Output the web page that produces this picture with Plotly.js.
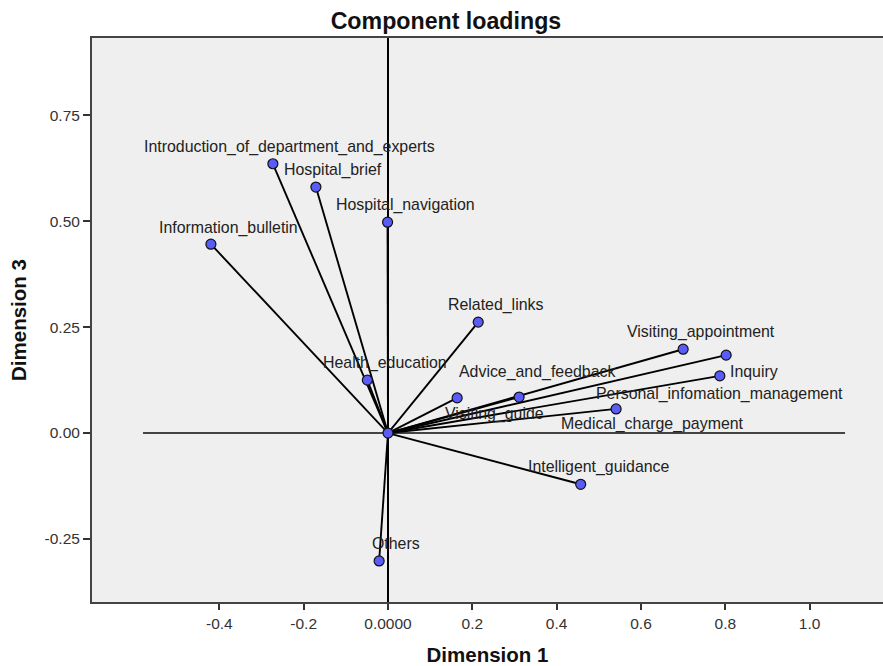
<!DOCTYPE html>
<html>
<head>
<meta charset="utf-8">
<script src="https://cdn.plot.ly/plotly-3.0.1.min.js"></script>
<style>html,body{margin:0;padding:0;background:#fff;}#chart{width:883px;height:666px;}</style>
</head>
<body>
<div id="chart"></div>
<script>
// ---- data ----
const variables = [
  "Introduction_of_department_and_experts",
  "Hospital_brief",
  "Hospital_navigation",
  "Information_bulletin",
  "Health_education",
  "Related_links",
  "Visiting_appointment",
  "Inquiry",
  "Personal_infomation_management",
  "Advice_and_feedback",
  "Visiting_guide",
  "Medical_charge_payment",
  "Intelligent_guidance",
  "Others"
];
const dimension1 = [-0.273, -0.171, -0.001, -0.420, -0.049, 0.214, 0.700, 0.802, 0.787, 0.311, 0.164, 0.541, 0.457, -0.021];
const dimension3 = [0.636, 0.581, 0.498, 0.446, 0.125, 0.262, 0.198, 0.184, 0.135, 0.085, 0.083, 0.057, -0.121, -0.302];
const xTickVals = [-0.4, -0.2, 0.0, 0.2, 0.4, 0.6, 0.8, 1.0];
const xTickText = ["-0.4", "-0.2", "0.0000", "0.2", "0.4", "0.6", "0.8", "1.0"];
const yTickVals = [-0.25, 0.0, 0.25, 0.50, 0.75];
const yTickText = ["-0.25", "0.00", "0.25", "0.50", "0.75"];
const refLineX = [-0.581, 1.084];

// ---- label placement (pixel offsets from each point, style only) ----
const labelShift = [
  [17, -17], [17, -17], [18, -17], [18, -16], [18, -17], [17, -17], [18, -17],
  [28, 16], [0, 18], [18, -25], [37, 16], [36, 15], [18, -17], [17, -17]
];

const font = "Liberation Sans, Arial, sans-serif";

// vectors from origin
const vx = [], vy = [];
dimension1.forEach((x, i) => { vx.push(0, x, null); vy.push(0, dimension3[i], null); });

const traces = [
  {
    x: vx, y: vy, type: "scatter", mode: "lines",
    line: {color: "#000", width: 1.9}, hoverinfo: "skip", showlegend: false
  },
  {
    x: [0].concat(dimension1), y: [0].concat(dimension3),
    text: [""].concat(variables),
    type: "scatter", mode: "markers",
    marker: {size: 10, color: "#5a5cf7", line: {color: "#111", width: 1.2}},
    showlegend: false
  }
];

const annotations = variables.map((v, i) => ({
  x: dimension1[i], y: dimension3[i], xref: "x", yref: "y",
  text: v, showarrow: false,
  xshift: labelShift[i][0], yshift: -labelShift[i][1],
  font: {family: font, size: 15.9, color: "#222"}
}));

const layout = {
  width: 883, height: 666,
  margin: {l: 92, r: 0, t: 38, b: 64},
  paper_bgcolor: "#fff",
  plot_bgcolor: "#efefef",
  title: {
    text: "Component loadings",
    font: {family: font, size: 23.2, color: "#111", weight: "bold"},
    xref: "container", yref: "container", x: 0.505, y: 0.968, xanchor: "center", yanchor: "middle"
  },
  xaxis: {
    range: [-0.702, 1.174],
    tickvals: xTickVals, ticktext: xTickText,
    showgrid: false, zeroline: true, zerolinecolor: "#000", zerolinewidth: 1.9,
    showline: true, mirror: true, linecolor: "#444", linewidth: 2,
    ticks: "outside", ticklen: 6, tickwidth: 2, tickcolor: "#333",
    tickfont: {family: font, size: 15.5, color: "#333"},
    title: {text: "Dimension 1", font: {family: font, size: 20.5, color: "#111", weight: "bold"}, standoff: 18}
  },
  yaxis: {
    range: [-0.399, 0.933],
    tickvals: yTickVals, ticktext: yTickText,
    showgrid: false, zeroline: false,
    showline: true, mirror: true, linecolor: "#444", linewidth: 2,
    ticks: "outside", ticklen: 7, tickwidth: 2, tickcolor: "#333",
    tickfont: {family: font, size: 15.5, color: "#333"},
    title: {text: "Dimension 3", font: {family: font, size: 20.5, color: "#111", weight: "bold"}, standoff: 12}
  },
  shapes: [{
    type: "line", xref: "x", yref: "y",
    x0: refLineX[0], x1: refLineX[1], y0: 0, y1: 0,
    line: {color: "#444", width: 2}, layer: "below"
  }],
  annotations: annotations
};

Plotly.newPlot("chart", traces, layout, {displayModeBar: false, staticPlot: true});
</script>
</body>
</html>
